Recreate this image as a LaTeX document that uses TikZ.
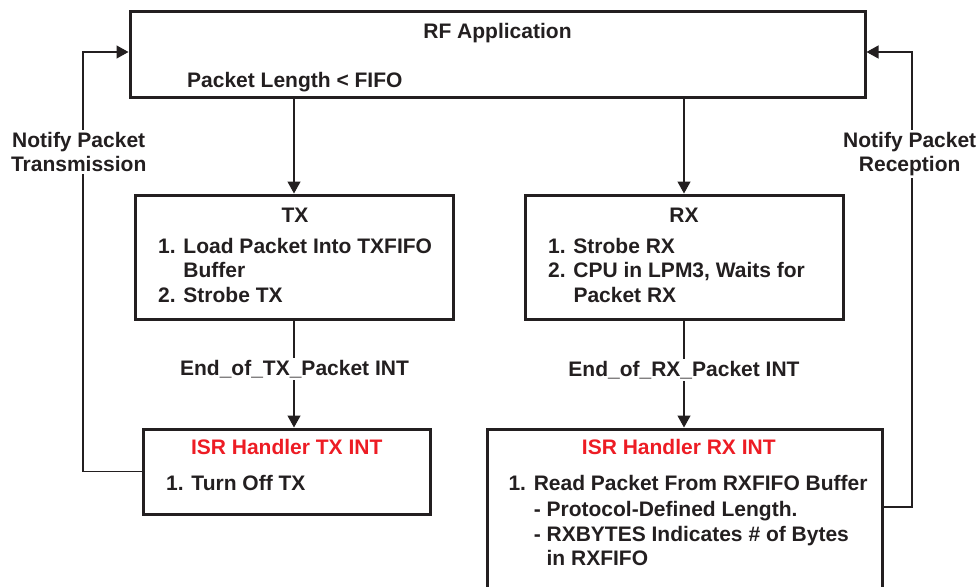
\documentclass[tikz,border=0pt]{standalone}
\usepackage{fontspec}
\setmainfont{Liberation Sans}
\usepackage{xcolor}
\usetikzlibrary{arrows.meta,calc,positioning}
\definecolor{isrred}{RGB}{237,28,36}
\definecolor{ink}{RGB}{35,31,32}

\begin{document}
\begin{tikzpicture}[x=1pt,y=-1pt,
  box/.style={draw=ink,line width=3pt,rectangle,inner sep=0pt},
  txt/.style={inner sep=0pt,font=\bfseries\fontsize{21}{24.5}\selectfont,text=ink},
  head/.style={txt,text=isrred,anchor=base},
  list/.style={txt,align=left,anchor=base west},
  link/.style={draw=ink,line width=1.3pt,-{Triangle[length=12pt,width=13pt]}},
  tag/.style={txt,fill=white,inner sep=2pt,align=center,anchor=base}]
\clip (0,0) rectangle (979,586);
\node[box,minimum width=735pt,minimum height=85pt] (rf) at (497.5,54.5) {};
\node[box,minimum width=318pt,minimum height=124pt] (tx) at (294,257) {};
\node[box,minimum width=318pt,minimum height=124pt] (rx) at (684,257) {};
\node[box,minimum width=287pt,minimum height=85pt] (isrtx) at (286.5,471.5) {};
\node[box,minimum width=395pt,minimum height=191pt] (isrrx) at (684.5,524.5) {};
\node[txt,anchor=base] (rftitle) at (497.5,38) {RF Application};
\node[txt,anchor=base west] (rfcond) at (187,87) {Packet Length < FIFO};
\node[txt,anchor=base] (txtitle) at (295,222) {TX};
\node[list] (txsteps) at (158,302) {1. Load Packet Into TXFIFO\\\phantom{1. }Buffer\\2. Strobe TX};
\node[txt,anchor=base] (rxtitle) at (684,222) {RX};
\node[list] (rxsteps) at (548,302) {1. Strobe RX\\2. CPU in LPM3, Waits for\\\phantom{2. }Packet RX};
\node[head] (isrtxtitle) at (286.7,454.3) {ISR Handler TX INT};
\node[list] (isrtxsteps) at (166,490) {1. Turn Off TX};
\node[head] (isrrxtitle) at (678.8,454.3) {ISR Handler RX INT};
\node[list] (isrrxsteps) at (508.3,565.5) {1. Read Packet From RXFIFO Buffer\\[2pt]
  \phantom{1. }- Protocol-Defined Length.\\\phantom{1. }- RXBYTES Indicates \# of Bytes\\\phantom{1. - }in RXFIFO};
\coordinate (txback) at (83,52);
\coordinate (rxback) at (912,52);
\draw[link] (rf.south -| tx.north) -- (tx.north);
\draw[link] (rf.south -| rx.north) -- (rx.north);
\draw[link] (tx.south) -- (tx.south |- isrtx.north);
\draw[link] (rx.south) -- (rx.south |- isrrx.north);
\draw[link] (isrtx.west) -| (txback) -- (txback -| rf.west);
\draw[link] ([yshift=17.5pt]isrrx.east) -| (rxback) -- (rxback -| rf.east);
\node[tag] (txint) at (294.5,375) {End\_of\_TX\_Packet INT};
\node[tag] (rxint) at (684,376.7) {End\_of\_RX\_Packet INT};
\node[tag] (txnote) at (78.7,171.7) {Notify Packet\\Transmission};
\node[tag] (rxnote) at (909.7,171.7) {Notify Packet\\Reception};
\end{tikzpicture}
\end{document}
